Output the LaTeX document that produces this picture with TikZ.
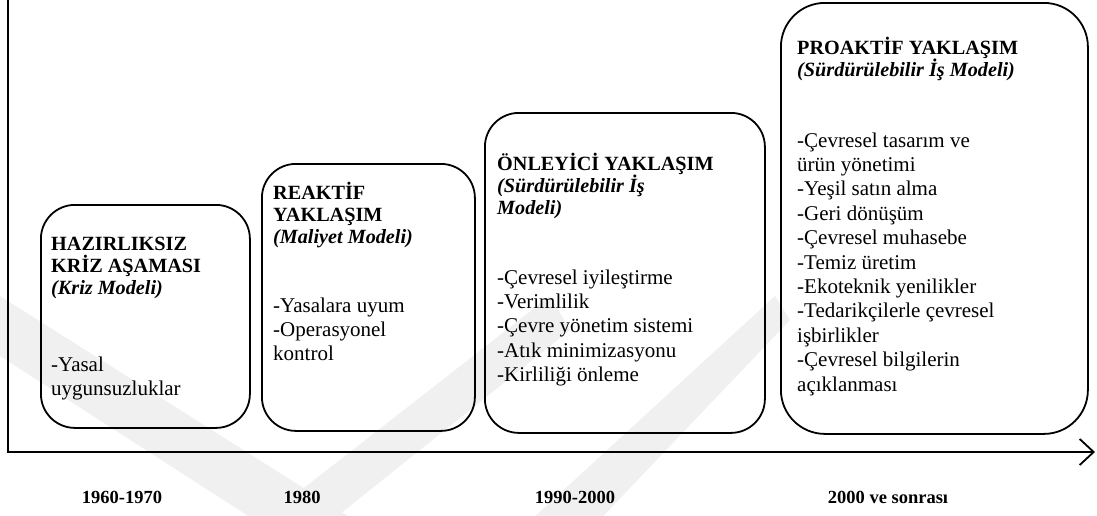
\documentclass[tikz,border=0pt]{standalone}
\usepackage{fontspec}
\setmainfont{Liberation Serif}
\usetikzlibrary{arrows.meta}

\tikzset{
  stage/.style={draw=black, line width=1.8pt, rounded corners=#1, inner sep=0pt},
  stage/.default=34pt,
  head/.style={anchor=base west, inner sep=0pt, font=\fontsize{20.2}{22}\selectfont\bfseries},
  items/.style={anchor=base west, inner sep=0pt, font=\fontsize{21}{24.4}\selectfont},
  year/.style={anchor=base, inner sep=0pt, font=\fontsize{18.5}{20}\selectfont\bfseries},
  axisline/.style={line width=1.8pt, line join=miter},
  emblem/.style={fill=black!6, draw=none}
}

\begin{document}
\begin{tikzpicture}[x=1pt, y=-1pt]
\useasboundingbox (0,0) rectangle (1097,515);

% faint background emblem
\begin{scope}
  \clip (0,0) rectangle (1097,515);
  \fill[emblem] (0,296) -- (0,356) -- (270,530) -- (370,530) -- cycle;
  \fill[emblem] (250,530) -- (320,530) -- (570,330) -- (550,296) -- cycle;
  \fill[emblem] (520,530) -- (590,530) -- (790,320) -- (775,296) -- cycle;
\end{scope}

% axes
\coordinate (ytop) at (8,0);
\coordinate (origin) at (8,452);
\coordinate (xend) at (1095,452);
\draw[axisline, -{Straight Barb[length=14pt, width=26pt, line width=1.8pt]}]
  (ytop) -- (origin) -- (xend);

% stage boxes
\node[stage, anchor=north west, minimum width=209pt, minimum height=223pt] (b1) at (40,204) {};
\node[stage, anchor=north west, minimum width=213pt, minimum height=267pt] (b2) at (261,163) {};
\node[stage, anchor=north west, minimum width=280pt, minimum height=320pt] (b3) at (484,112) {};
\node[stage=44pt, anchor=north west, minimum width=307pt, minimum height=431pt] (b4) at (780,2) {};

% stage 1
\node[head] (h1) at (51,250) {\parbox[t]{190pt}{HAZIRLIKSIZ\\KRİZ AŞAMASI\\\textit{(Kriz Modeli)}}};
\node[items] (i1) at (51,371) {\parbox[t]{190pt}{-Yasal\\uygunsuzluklar}};

% stage 2
\node[head] (h2) at (273,199) {\parbox[t]{195pt}{REAKTİF\\YAKLAŞIM\\\textit{(Maliyet Modeli)}}};
\node[items] (i2) at (273,312) {\parbox[t]{195pt}{-Yasalara uyum\\-Operasyonel\\kontrol}};

% stage 3
\node[head] (h3) at (497,170) {\parbox[t]{260pt}{ÖNLEYİCİ YAKLAŞIM\\\textit{(Sürdürülebilir İş}\\\textit{Modeli)}}};
\node[items] (i3) at (497,284) {\parbox[t]{260pt}{-Çevresel iyileştirme\\-Verimlilik\\-Çevre yönetim sistemi\\-Atık minimizasyonu\\-Kirliliği önleme}};

% stage 4
\node[head] (h4) at (797,54) {\parbox[t]{280pt}{PROAKTİF YAKLAŞIM\\\textit{(Sürdürülebilir İş Modeli)}}};
\node[items] (i4) at (797,147) {\parbox[t]{280pt}{-Çevresel tasarım ve\\ürün yönetimi\\-Yeşil satın alma\\-Geri dönüşüm\\-Çevresel muhasebe\\-Temiz üretim\\-Ekoteknik yenilikler\\-Tedarikçilerle çevresel\\işbirlikler\\-Çevresel bilgilerin\\açıklanması}};

% period labels
\node[year] (y1) at (122,503) {1960-1970};
\node[year] (y2) at (302,503) {1980};
\node[year] (y3) at (575,503) {1990-2000};
\node[year] (y4) at (888,503) {2000 ve sonrası};
\end{tikzpicture}
\end{document}
